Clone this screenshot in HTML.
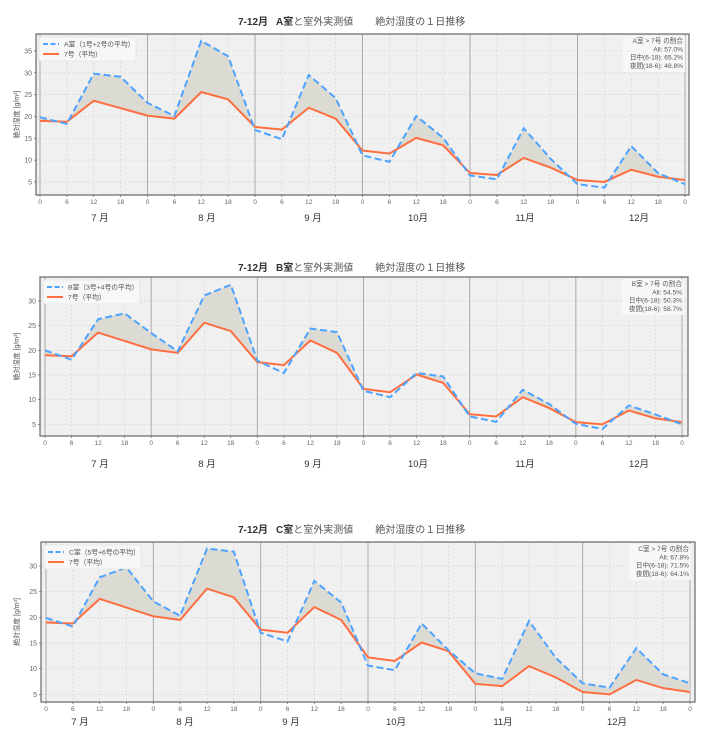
<!DOCTYPE html>
<html><head><meta charset="utf-8"><style>
body{margin:0;background:#fff;width:720px;height:747px;overflow:hidden}
svg{display:block}
text{font-family:"Liberation Sans","Noto Sans CJK JP",sans-serif}
</style></head><body>
<svg id="s" width="720" height="747" xmlns="http://www.w3.org/2000/svg"></svg>
<script>
var red=[19.0,18.8,23.6,21.9,20.2,19.5,25.6,23.9,17.6,17.0,22.0,19.5,12.2,11.5,15.1,13.4,7.05,6.6,10.5,8.3,5.45,5.0,7.8,6.2,5.45];
var P=[
{room:"A",lab:"A室（1号+2号の平均）",ty:25,x0:36,x1:689,y0:34,y1:195,t0:40,t1:685,v0y:203.8,pu:4.367,yt:[5,10,15,20,25,30,35],
 blue:[19.8,18.3,29.8,29.1,23.1,20.1,37.3,33.8,16.9,14.8,29.5,24.2,11.1,9.6,20.1,15.1,6.5,5.6,17.3,10.3,4.5,3.7,13.2,7.0,4.5],
 stats:["A室 > 7号 の割合","All: 57.0%","日中(6-18): 65.2%","夜間(18-6): 48.8%"],my:221,mx:[100,207,313,418,525,639]},
{room:"B",lab:"B室（3号+4号の平均）",ty:271,x0:40,x1:688,y0:277,y1:436,t0:45,t1:682,v0y:449,pu:4.933,yt:[5,10,15,20,25,30],
 blue:[20.0,18.1,26.3,27.5,23.5,19.8,31.1,33.3,17.9,15.4,24.4,23.7,11.8,10.5,15.4,14.7,6.6,5.5,12.0,9.1,5.1,4.05,8.85,7.0,5.0],
 stats:["B室 > 7号 の割合","All: 54.5%","日中(6-18): 50.3%","夜間(18-6): 58.7%"],my:467,mx:[100,207,313,418,525,639]},
{room:"C",lab:"C室（5号+6号の平均）",ty:533,x0:41,x1:695,y0:542,y1:702,t0:46,t1:690,v0y:720,pu:5.133,yt:[5,10,15,20,25,30],
 blue:[19.9,18.2,27.8,29.7,23.1,20.3,33.4,32.8,17.0,15.3,27.1,22.9,10.6,9.7,18.8,13.6,9.1,8.0,19.3,12.1,7.15,6.3,14.0,8.9,7.15],
 stats:["C室 > 7号 の割合","All: 67.8%","日中(6-18): 71.5%","夜間(18-6): 64.1%"],my:725,mx:[80,185,291,396,503,617]}
];
var months=["7 月","8 月","9 月","10月","11月","12月"];
var h="";
P.forEach(function(p){
 var R=p.room==="B"?red.map(function(v,i){return v}):red;
 var X=function(i){return p.t0+(p.t1-p.t0)*i/24};
 var Y=function(v){return p.v0y-v*p.pu};
 h+='<rect x="'+p.x0+'" y="'+p.y0+'" width="'+(p.x1-p.x0)+'" height="'+(p.y1-p.y0)+'" fill="#f0f0f0"/>';
 // grid
 p.yt.forEach(function(v){var y=Y(v);h+='<line x1="'+p.x0+'" x2="'+p.x1+'" y1="'+y+'" y2="'+y+'" stroke="#d6d6d6" stroke-width="0.7" stroke-dasharray="2,2"/>';
  h+='<text x="'+(p.x0-4)+'" y="'+(y+2.5)+'" font-size="7" fill="#666" text-anchor="end">'+v+'</text>';
  h+='<line x1="'+(p.x0-2)+'" x2="'+p.x0+'" y1="'+y+'" y2="'+y+'" stroke="#666" stroke-width="0.7"/>';});
 for(var i=0;i<=24;i++){var x=X(i);
  if(i%4==0) h+='<line x1="'+x+'" x2="'+x+'" y1="'+p.y0+'" y2="'+p.y1+'" stroke="#aaa" stroke-width="1"/>';
  else h+='<line x1="'+x+'" x2="'+x+'" y1="'+p.y0+'" y2="'+p.y1+'" stroke="#d6d6d6" stroke-width="0.7" stroke-dasharray="2,2"/>';
  h+='<line x1="'+x+'" x2="'+x+'" y1="'+p.y1+'" y2="'+(p.y1+2)+'" stroke="#666" stroke-width="0.7"/>';
  h+='<text x="'+x+'" y="'+(p.y1+9)+'" font-size="6.5" fill="#666" text-anchor="middle">'+[0,6,12,18][i%4]+'</text>';}
 // fill
 var B=p.blue;
 for(var i=0;i<24;i++){var d0=B[i]-R[i],d1=B[i+1]-R[i+1];var pts=null;
  if(d0>=0&&d1>=0) pts=[[X(i),Y(B[i])],[X(i+1),Y(B[i+1])],[X(i+1),Y(R[i+1])],[X(i),Y(R[i])]];
  else if(d0>0&&d1<0){var t=d0/(d0-d1);var xc=X(i+t),vc=R[i]+(R[i+1]-R[i])*t;pts=[[X(i),Y(B[i])],[xc,Y(vc)],[X(i),Y(R[i])]];}
  else if(d0<0&&d1>0){var t=-d0/(d1-d0);var xc=X(i+t),vc=R[i]+(R[i+1]-R[i])*t;pts=[[xc,Y(vc)],[X(i+1),Y(B[i+1])],[X(i+1),Y(R[i+1])]];}
  if(pts) h+='<polygon points="'+pts.map(function(q){return q.join(",")}).join(" ")+'" fill="#dcdbd3"/>';}
 var pl=function(a){return a.map(function(v,i){return X(i)+","+Y(v)}).join(" ")};
 h+='<polyline points="'+pl(R)+'" fill="none" stroke="#ff6e40" stroke-width="2"/>';
 h+='<polyline points="'+pl(B)+'" fill="none" stroke="#4da3ff" stroke-width="2" stroke-dasharray="7,3.5"/>';
 h+='<rect x="'+p.x0+'" y="'+p.y0+'" width="'+(p.x1-p.x0)+'" height="'+(p.y1-p.y0)+'" fill="none" stroke="#666" stroke-width="1.2"/>';
 // legend
 var lx=p.x0+3,ly=p.y0+3;
 h+='<rect x="'+lx+'" y="'+ly+'" width="97" height="24" fill="#f7f7f7" stroke="#ddd" stroke-width="0.6" rx="1.5"/>';
 h+='<line x1="'+(lx+4)+'" x2="'+(lx+20)+'" y1="'+(ly+7)+'" y2="'+(ly+7)+'" stroke="#4da3ff" stroke-width="2" stroke-dasharray="5,2.5"/>';
 h+='<line x1="'+(lx+4)+'" x2="'+(lx+20)+'" y1="'+(ly+17)+'" y2="'+(ly+17)+'" stroke="#ff6e40" stroke-width="2"/>';
 h+='<text x="'+(lx+25)+'" y="'+(ly+9.5)+'" font-size="6.8" fill="#555">'+p.lab+'</text>';
 h+='<text x="'+(lx+25)+'" y="'+(ly+19.5)+'" font-size="6.8" fill="#555">7号（平均）</text>';
 // stats
 var sx=p.x1-4;
 h+='<rect x="'+(sx-62)+'" y="'+(p.y0+2)+'" width="62" height="36" fill="#f7f7f7" opacity="0.9"/>';
 p.stats.forEach(function(s,k){h+='<text x="'+(sx-2)+'" y="'+(p.y0+9+k*8.3)+'" font-size="6.6" fill="#555" text-anchor="end">'+s+'</text>';});
 // title
 h+='<text x="238" y="'+p.ty+'" font-size="10" fill="#333"><tspan font-weight="bold">7-12月</tspan><tspan dx="8" font-weight="bold">'+p.room+'室</tspan><tspan fill="#555">と室外実測値</tspan><tspan dx="22" fill="#555">絶対湿度の１日推移</tspan></text>';
 // ylabel
 var yc=(p.y0+p.y1)/2;
 h+='<text transform="translate(19,'+yc+') rotate(-90)" font-size="7" fill="#555" text-anchor="middle">絶対湿度 [g/m³]</text>';
 months.forEach(function(m,k){h+='<text x="'+p.mx[k]+'" y="'+p.my+'" font-size="9.5" fill="#333" text-anchor="middle">'+m+'</text>';});
});
document.getElementById("s").innerHTML=h;
</script>
</body></html>
